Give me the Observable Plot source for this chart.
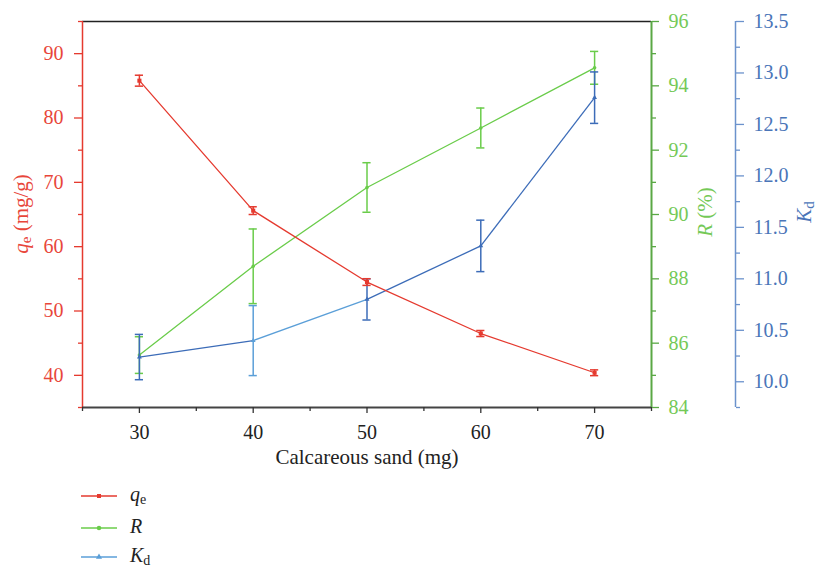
<!DOCTYPE html>
<html>
<head>
<meta charset="utf-8">
<script src="https://cdn.jsdelivr.net/npm/d3@7"></script>
<script src="https://cdn.jsdelivr.net/npm/@observablehq/plot@0.6"></script>
<style>
  body { margin: 0; background: white; font-family: "Liberation Serif", serif; }
  #chart svg { display: block; }
  svg text { font-family: "Liberation Serif", serif !important; }
</style>
</head>
<body>
<div id="chart"></div>
<div id="legend"></div>
<script>
// ---- data ----
const sand = [30, 40, 50, 60, 70];
const qe = [85.8, 65.6, 54.5, 46.5, 40.4];
const qeErr = [0.85, 0.6, 0.52, 0.47, 0.45];
const R = [85.63, 88.39, 90.84, 92.69, 94.56];
const RErr = [0.57, 1.16, 0.77, 0.62, 0.51];
const Kd = [10.24, 10.40, 10.80, 11.32, 12.76];
const KdErr = [0.22, 0.34, 0.20, 0.25, 0.25];

const xTicks = [30, 40, 50, 60, 70];
const qeTicks = [40, 50, 60, 70, 80, 90];
const RTicks = [84, 86, 88, 90, 92, 94, 96];
const KdTicks = [10.0, 10.5, 11.0, 11.5, 12.0, 12.5, 13.0, 13.5];

// ---- colours ----
const red = "#e53a2f", redText = "#e8463a";
const green = "#6acc4a", greenText = "#74c957", greenAxis = "#5aa845";
const blueDark = "#3c6cb8", blueLight = "#5b9fd8", blueAxis = "#6b92cc", blueText = "#4a75b8";

const FONT = "Liberation Serif";
const TICK_FS = 20;

// ---- scales for secondary axes (mapped onto the qe scale) ----
const qeDomain = [35, 95];
const rY = d3.scaleLinear([84, 96], qeDomain);
const kY = d3.scaleLinear([9.75, 13.5], qeDomain);

const rows = sand.map((x, i) => ({x, qe: qe[i], qeErr: qeErr[i], R: R[i], RErr: RErr[i], Kd: Kd[i], KdErr: KdErr[i], i}));
const pairs = d3.pairs(rows);
const capW = 0.36;

function errorMarks(val, err, map, strokeFn) {
  const lo = d => map(val(d) - err(d)), hi = d => map(val(d) + err(d));
  return [
    Plot.ruleX(rows, {x: "x", y1: lo, y2: hi, stroke: strokeFn, strokeWidth: 1.5}),
    Plot.ruleY(rows, {y: lo, x1: d => d.x - capW, x2: d => d.x + capW, stroke: strokeFn, strokeWidth: 1.5}),
    Plot.ruleY(rows, {y: hi, x1: d => d.x - capW, x2: d => d.x + capW, stroke: strokeFn, strokeWidth: 1.5})
  ];
}
const kdColor = d => d.i === 1 ? blueLight : blueDark;

const BLUE_DX = 84;

const plot = Plot.plot({
  width: 816,
  height: 470,
  marginLeft: 82,
  marginRight: 165,
  marginTop: 21,
  marginBottom: 63,
  x: {domain: [25, 75]},
  y: {domain: qeDomain},
  color: {type: "identity"},
  style: {fontFamily: FONT, fontSize: TICK_FS + "px", background: "white", overflow: "visible"},
  marks: [
    // frame lines
    Plot.ruleY([95], {stroke: "#222", strokeWidth: 1.5}),
    Plot.ruleX([25], {stroke: red, strokeWidth: 1.5}),
    Plot.ruleX([75], {stroke: greenAxis, strokeWidth: 2}),
    Plot.ruleX([75], {stroke: blueAxis, strokeWidth: 1.5, dx: BLUE_DX}),
    Plot.ruleY([35], {stroke: "#444", strokeWidth: 2}),

    // x axis
    Plot.axisX({ticks: xTicks, tickSize: 6, tickPadding: 11, stroke: "#333", fill: "#222", label: null, strokeWidth: 1.3, fontSize: TICK_FS}),
    Plot.axisX({ticks: [25, 35, 45, 55, 65, 75], tickSize: 4, text: null, label: null, stroke: "#333", strokeWidth: 1.3}),
    Plot.text(["Calcareous sand (mg)"], {frameAnchor: "bottom", dy: 50, lineAnchor: "middle", fill: "#222", fontSize: 21}),

    // left qe axis
    Plot.axisY({anchor: "left", ticks: qeTicks, tickSize: 8, tickPadding: 11, stroke: red, fill: redText, label: null, strokeWidth: 1.3, fontSize: TICK_FS}),
    Plot.axisY({anchor: "left", ticks: [35, 45, 55, 65, 75, 85, 95], tickSize: 4, text: null, label: null, stroke: red, strokeWidth: 1.3}),

    // right R axis
    Plot.axisY({anchor: "right", ticks: RTicks.map(rY), tickFormat: d => String(Math.round(rY.invert(d))), tickSize: 7, tickPadding: 10, stroke: greenAxis, fill: greenText, label: null, strokeWidth: 1.3, fontSize: TICK_FS}),
    Plot.axisY({anchor: "right", ticks: [85, 87, 89, 91, 93, 95].map(rY), tickSize: 4, text: null, label: null, stroke: greenAxis, strokeWidth: 1.3}),

    // far right Kd axis
    Plot.axisY({anchor: "right", dx: BLUE_DX, ticks: KdTicks.map(kY), tickFormat: d => kY.invert(d).toFixed(1), tickSize: 8, tickPadding: 10, stroke: blueAxis, fill: blueText, label: null, strokeWidth: 1.3, fontSize: TICK_FS}),
    Plot.axisY({anchor: "right", dx: BLUE_DX, ticks: [9.75, 10.25, 10.75, 11.25, 11.75, 12.25, 12.75, 13.25].map(kY), tickSize: 4, text: null, label: null, stroke: blueAxis, strokeWidth: 1.3}),

    // R series
    Plot.line(rows, {x: "x", y: d => rY(d.R), stroke: green, strokeWidth: 1.3}),
    ...errorMarks(d => d.R, d => d.RErr, rY, green),
    Plot.dot(rows, {x: "x", y: d => rY(d.R), r: 1.8, fill: green, stroke: "none"}),

    // Kd series
    Plot.link(pairs, {x1: p => p[0].x, y1: p => kY(p[0].Kd), x2: p => p[1].x, y2: p => kY(p[1].Kd), stroke: (p, i) => i === 1 ? blueLight : blueDark, strokeWidth: 1.3}),
    ...errorMarks(d => d.Kd, d => d.KdErr, kY, kdColor),
    Plot.dot(rows, {x: "x", y: d => kY(d.Kd), r: 1.8, symbol: "triangle", fill: kdColor, stroke: "none"}),

    // qe series
    Plot.line(rows, {x: "x", y: "qe", stroke: red, strokeWidth: 1.3}),
    ...errorMarks(d => d.qe, d => d.qeErr, d => d, red),
    Plot.dot(rows, {x: "x", y: "qe", r: 2.3, symbol: "square", fill: red, stroke: "none"})
  ]
});
document.getElementById("chart").append(plot);

// ---- axis titles (rich text with italics / subscripts) ----
const svg = d3.select(plot);
function vlabel(cx, cy, color, parts) {
  const t = svg.append("text")
    .attr("transform", `translate(${cx},${cy}) rotate(-90)`)
    .attr("text-anchor", "middle")
    .attr("dominant-baseline", "middle")
    .attr("fill", color)
    .attr("font-family", FONT)
    .attr("font-size", 21);
  parts.forEach(p => {
    const s = t.append("tspan").text(p.t);
    if (p.i) s.attr("font-style", "italic");
    if (p.sub) s.attr("dy", 5).attr("font-size", 15);
    if (p.up) s.attr("dy", -5);
  });
}
vlabel(23, 214, redText, [{t: "q", i: true}, {t: "e", sub: true}, {t: " (mg/g)", up: true}]);
vlabel(707, 212, greenText, [{t: "R", i: true}, {t: " (%)"}]);
vlabel(806, 212, blueText, [{t: "K", i: true}, {t: "d", sub: true}]);

// force the serif face on every text of the chart
plot.querySelectorAll("text").forEach(t => { t.style.fontFamily = FONT; });

// ---- legend ----
const legendItems = [
  {color: red, symbol: "square", parts: [{t: "q", i: true}, {t: "e", sub: true}]},
  {color: green, symbol: "circle", parts: [{t: "R", i: true}]},
  {color: blueLight, symbol: "triangle", parts: [{t: "K", i: true}, {t: "d", sub: true}]}
];
const rowY = [26, 58, 87];
const lg = d3.select("#legend").append("svg").attr("width", 816).attr("height", 97).style("display", "block");
legendItems.forEach((it, k) => {
  const y = rowY[k];
  lg.append("line").attr("x1", 81).attr("x2", 117).attr("y1", y).attr("y2", y).attr("stroke", it.color).attr("stroke-width", 1.5);
  lg.append("path").attr("d", d3.symbol(it.symbol === "square" ? d3.symbolSquare : it.symbol === "circle" ? d3.symbolCircle : d3.symbolTriangle, 16)()).attr("transform", `translate(99,${y})`).attr("fill", it.color);
  const t = lg.append("text").attr("x", 130).attr("y", y + 5).attr("fill", "#222").attr("font-family", FONT).attr("font-size", 20);
  it.parts.forEach(p => {
    const s = t.append("tspan").text(p.t);
    if (p.i) s.attr("font-style", "italic");
    if (p.sub) s.attr("dy", 3).attr("font-size", 14);
  });
});
</script>
</body>
</html>
